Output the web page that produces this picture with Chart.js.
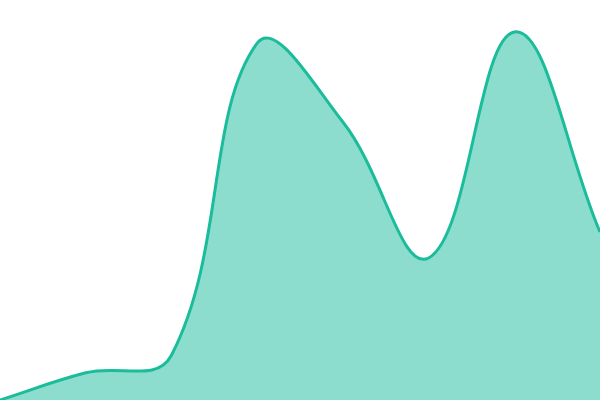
<!DOCTYPE html>
<html lang="en">
<head>
    <meta charset="UTF-8">
    <title>Area</title>
    <script src="https://cdn.jsdelivr.net/npm/chart.js"></script>
    <style>
        html, body { margin: 0; padding: 0; background: #ffffff; }
        .wrap { width: 600px; height: 400px; }
    </style>
</head>
<body>
    <div class="wrap"><canvas id="area-chart"></canvas></div>
    <script>
        const labels = ['1', '2', '3', '4', '5', '6', '7', '8'];
        const values = [0, 6.8, 11.2, 89.2, 69.5, 35.5, 92, 42];

        const ctx = document.getElementById('area-chart').getContext('2d');
        new Chart(ctx, {
            type: 'line',
            data: {
                labels: labels,
                datasets: [{
                    data: values,
                    borderColor: '#1abc9c',
                    backgroundColor: 'rgba(26,188,156,0.5)',
                    borderWidth: 3,
                    fill: 'origin',
                    tension: 0.4,
                    pointRadius: 0
                }]
            },
            options: {
                responsive: true,
                maintainAspectRatio: false,
                animation: false,
                layout: { padding: 0 },
                plugins: { legend: { display: false }, tooltip: { enabled: false } },
                scales: {
                    x: { display: false },
                    y: { display: false, min: 0, max: 100 }
                }
            }
        });
    </script>
</body>
</html>
